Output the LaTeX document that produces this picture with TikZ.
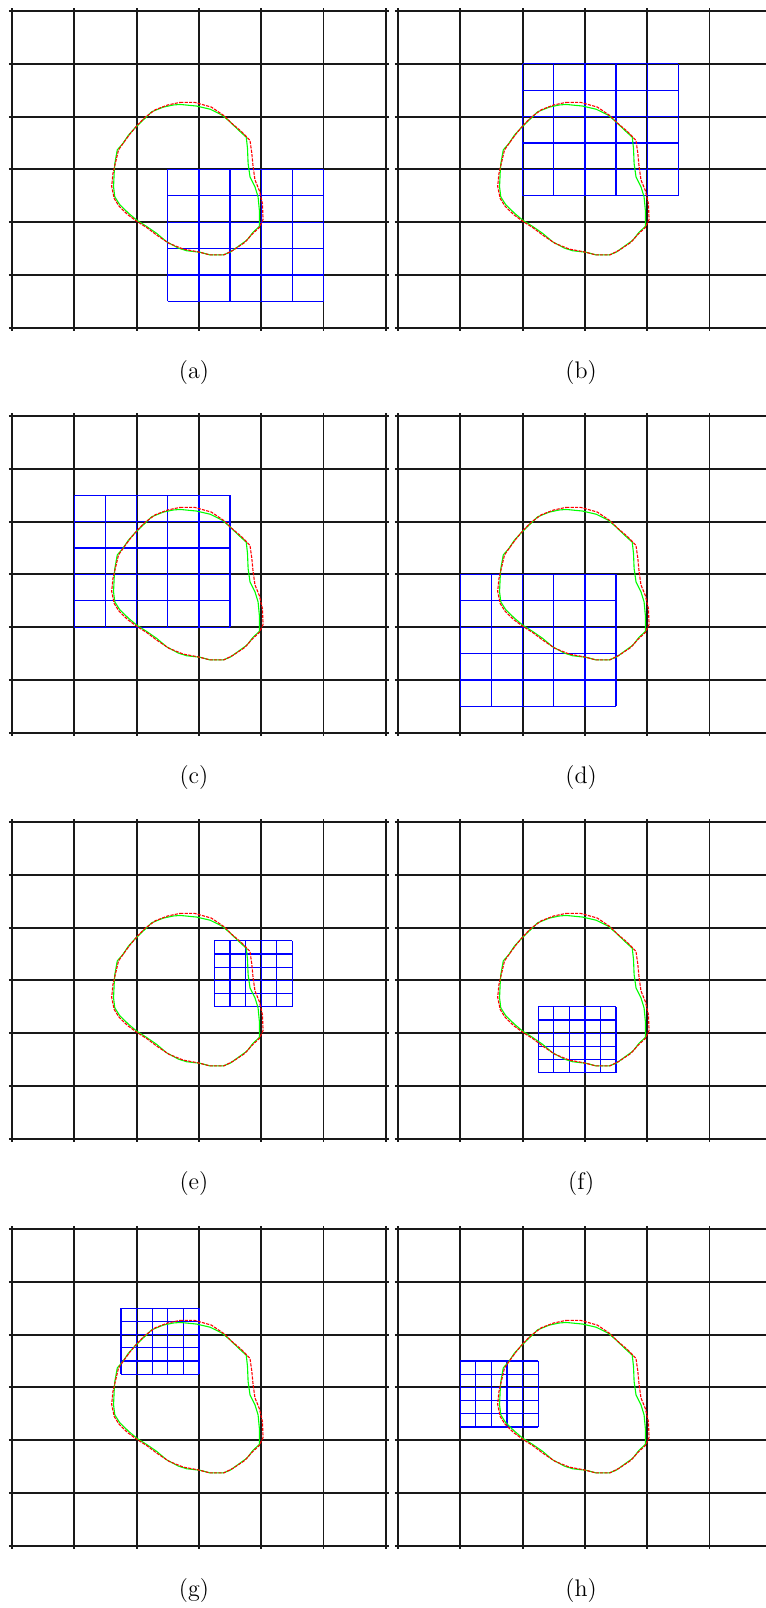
\documentclass[tikz,border=0pt]{standalone}
\usepackage{tikz}

\begin{document}
\begin{tikzpicture}[
x=0.5pt, y=0.5pt,
painel/.style={x=31.15pt, y=26.4pt},
grade/.style={draw=black!90, line width=0.95pt, step={(1,1)}},
malha/.style={draw=blue, line width=0.6pt},
verde/.style={draw=green, line width=0.55pt, line join=round},
vermelho/.style={draw=red, line width=0.55pt, dash pattern=on 1.6pt off 0.6pt},
rotulo/.style={font=\large},
quadro/.pic={
  \foreach \i in {0,...,5} {
    \draw[malha] (\i*#1,0) -- (\i*#1,5*#1);
    \draw[malha] (0,\i*#1) -- (5*#1,\i*#1);
  }
},
contorno/.pic={
  \draw[verde] (2.70,4.23) -- (2.96,4.20) -- (3.18,4.14) -- (3.37,4.03) -- (3.50,3.90) -- (3.63,3.75) -- (3.76,3.61) -- (3.78,3.40) -- (3.79,3.11) -- (3.82,2.86) -- (3.90,2.67) -- (3.95,2.48) -- (3.97,2.23) -- (3.97,1.92) -- (3.87,1.81) -- (3.77,1.66) -- (3.63,1.54) -- (3.50,1.43) -- (3.39,1.38) -- (3.18,1.38) -- (3.02,1.43) -- (2.80,1.46) -- (2.67,1.51) -- (2.48,1.63) -- (2.32,1.79) -- (2.16,1.92) -- (2.00,2.04) -- (1.87,2.17) -- (1.73,2.33) -- (1.65,2.48) -- (1.63,2.67) -- (1.64,2.93) -- (1.65,3.11) -- (1.69,3.37) -- (1.78,3.49) -- (1.87,3.65) -- (1.97,3.78) -- (2.11,3.94) -- (2.24,4.09) -- (2.43,4.18) -- (2.59,4.22) -- cycle;
  \draw[vermelho] (2.70,4.27) -- (2.93,4.27) -- (3.20,4.18) -- (3.40,4.02) -- (3.52,3.88) -- (3.68,3.72) -- (3.82,3.55) -- (3.85,3.30) -- (3.87,3.05) -- (3.90,2.80) -- (3.97,2.60) -- (4.02,2.35) -- (4.03,2.05) -- (3.97,1.90) -- (3.86,1.78) -- (3.74,1.62) -- (3.55,1.47) -- (3.40,1.38) -- (3.18,1.38) -- (2.98,1.44) -- (2.75,1.49) -- (2.52,1.60) -- (2.33,1.75) -- (2.16,1.90) -- (2.00,2.02) -- (1.86,2.14) -- (1.72,2.30) -- (1.64,2.45) -- (1.60,2.68) -- (1.62,2.92) -- (1.66,3.12) -- (1.71,3.37) -- (1.80,3.52) -- (1.90,3.68) -- (2.00,3.82) -- (2.13,3.98) -- (2.30,4.13) -- (2.50,4.22) -- cycle;
}
]
\useasboundingbox (0,0) rectangle (766,1608);

% (a)
\begin{scope}[shift={(12,1280.2)}, painel]
\draw[grade] (-0.05,-0.06) grid (6.05,6.06);
\pic at (2.5,0.5) {quadro=0.5};
\pic at (0,0) {contorno};
\node[rotulo] (rot-a) at (2.92,-0.84) {(a)};
\end{scope}

% (b)
\begin{scope}[shift={(398,1280.2)}, painel]
\draw[grade] (-0.05,-0.06) grid (6.05,6.06);
\pic at (2,2.5) {quadro=0.5};
\pic at (0,0) {contorno};
\node[rotulo] (rot-b) at (2.94,-0.84) {(b)};
\end{scope}

% (c)
\begin{scope}[shift={(12,875.2)}, painel]
\draw[grade] (-0.05,-0.06) grid (6.05,6.06);
\pic at (1,2) {quadro=0.5};
\pic at (0,0) {contorno};
\node[rotulo] (rot-c) at (2.92,-0.84) {(c)};
\end{scope}

% (d)
\begin{scope}[shift={(398,875.2)}, painel]
\draw[grade] (-0.05,-0.06) grid (6.05,6.06);
\pic at (1,0.5) {quadro=0.5};
\pic at (0,0) {contorno};
\node[rotulo] (rot-d) at (2.94,-0.84) {(d)};
\end{scope}

% (e)
\begin{scope}[shift={(12,469.2)}, painel]
\draw[grade] (-0.05,-0.06) grid (6.05,6.06);
\pic at (3.25,2.5) {quadro=0.25};
\pic at (0,0) {contorno};
\node[rotulo] (rot-e) at (2.92,-0.84) {(e)};
\end{scope}

% (f)
\begin{scope}[shift={(398,469.2)}, painel]
\draw[grade] (-0.05,-0.06) grid (6.05,6.06);
\pic at (2.25,1.25) {quadro=0.25};
\pic at (0,0) {contorno};
\node[rotulo] (rot-f) at (2.94,-0.84) {(f)};
\end{scope}

% (g)
\begin{scope}[shift={(12,62.2)}, painel]
\draw[grade] (-0.05,-0.06) grid (6.05,6.06);
\pic at (1.75,3.25) {quadro=0.25};
\pic at (0,0) {contorno};
\node[rotulo] (rot-g) at (2.92,-0.84) {(g)};
\end{scope}

% (h)
\begin{scope}[shift={(398,62.2)}, painel]
\draw[grade] (-0.05,-0.06) grid (6.05,6.06);
\pic at (1,2.25) {quadro=0.25};
\pic at (0,0) {contorno};
\node[rotulo] (rot-h) at (2.94,-0.84) {(h)};
\end{scope}
\end{tikzpicture}
\end{document}
